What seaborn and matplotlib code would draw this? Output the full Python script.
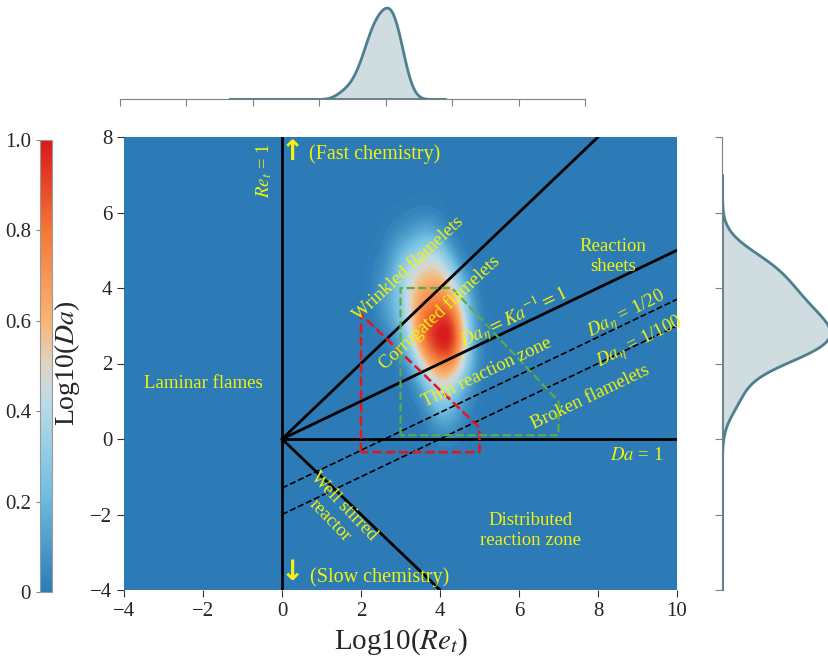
import numpy as np
import matplotlib
matplotlib.use('Agg')
import matplotlib.pyplot as plt
import seaborn as sns
from matplotlib.colors import LinearSegmentedColormap, Normalize
import matplotlib.cm as cm

sns.set_style('ticks')
plt.rcParams['font.family'] = ['Liberation Serif', 'DejaVu Sans']
plt.rcParams['mathtext.fontset'] = 'stix'

# === DATI: campioni (log10 Re_t, log10 Da) ===
re_samples = [4.10, 4.00, 4.20, 4.30, 3.75, 4.25, 3.70, 4.40, 3.95, 4.05, 4.45, 3.60,
              3.55, 4.40, 3.45, 4.30, 4.55, 3.75, 3.70, 4.15, 3.55, 4.00,
              3.20, 3.50, 2.75, 3.85, 3.30, 3.10,
              4.15, 3.95]
da_samples = [2.90, 2.60, 3.20, 2.80, 3.00, 2.50, 3.50, 3.20, 2.30, 3.70, 2.60, 2.70,
              3.80, 2.20, 3.10, 4.10, 3.50, 2.10, 4.30, 2.00, 2.40, 4.50,
              4.00, 4.70, 3.60, 4.90, 2.70, 4.50,
              1.30, 1.00]

# === confini del diagramma di regime ===
re1_x, re1_y = [0, 0], [-4, 8]
wrinkled_x, wrinkled_y = [0, 8], [0, 8]
ka_x, ka_y = [0, 10], [0, 5]
da1_x, da1_y = [0, 10], [0, 0]
wsr_x, wsr_y = [0, 4], [0, -4]
da20_x, da20_y = [0, 10], [-1.30, 3.70]
da100_x, da100_y = [0, 10], [-2.00, 3.00]
red_x = [2, 2, 5, 5, 2]
red_y = [-0.35, 3.3, 0.3, -0.35, -0.35]
green_x = [3, 3, 4.3, 7, 7, 3]
green_y = [0.1, 4.0, 4.0, 1.0, 0.1, 0.1]

cmap = LinearSegmentedColormap.from_list('blob', [
    (0.0, '#2c7bb6'), (0.22, '#72c0e2'), (0.42, '#bcdbe7'), (0.5, '#ddd5c8'),
    (0.6, '#f8b575'), (0.8, '#f37836'), (1.0, '#d7191c')])

W, H = 829, 662
fig = plt.figure(figsize=(W / 100, H / 100), dpi=100)

def box(l, t, r, b):
    return [l / W, 1 - b / H, (r - l) / W, (b - t) / H]

ax = fig.add_axes(box(124, 137, 677, 590))
ax_top = fig.add_axes(box(120, 3, 585, 99))
ax_right = fig.add_axes(box(722, 137, 829, 590))
cax = fig.add_axes(box(40, 140, 52, 592))

# === GRAFICO PRINCIPALE ===
ax.set_facecolor(cmap(0.0))
sns.kdeplot(x=re_samples, y=da_samples, ax=ax, fill=True, cmap=cmap,
            levels=80, thresh=0.005, bw_adjust=1.2)
ax.set_xlim(-4, 10)
ax.set_ylim(-4, 8)

for xs, ys in [(re1_x, re1_y), (wrinkled_x, wrinkled_y), (ka_x, ka_y),
               (da1_x, da1_y), (wsr_x, wsr_y)]:
    ax.plot(xs, ys, color='black', lw=2)
ax.plot(da20_x, da20_y, color='black', lw=1.2, ls='--')
ax.plot(da100_x, da100_y, color='black', lw=1.2, ls='--')
ax.plot(red_x, red_y, color='#e8141c', lw=1.8, ls='--')
ax.plot(green_x, green_y, color='#5aab4a', lw=1.6, ls='--')

yel = '#f2f20c'
fs = 13.5
ax.text(-0.46, 7.1, r'$Re_t$ = 1', color=yel, fontsize=fs, rotation=90, ha='center', va='center')
ax.text(0.25, 7.6, '\u2191', color=yel, fontsize=20, fontweight='bold', ha='center', va='center',
        family=['DejaVu Sans'])
ax.text(2.35, 7.54, '(Fast chemistry)', color=yel, fontsize=14.5, ha='center', va='center')
ax.text(0.25, -3.53, '\u2193', color=yel, fontsize=20, fontweight='bold', ha='center', va='center',
        family=['DejaVu Sans'])
ax.text(2.48, -3.66, '(Slow chemistry)', color=yel, fontsize=14.5, ha='center', va='center')
ax.text(3.2, 4.52, 'Wrinkled flamelets', color=yel, fontsize=fs, rotation=43, ha='center', va='center')
ax.text(4.0, 3.34, 'Corrugated flamelets', color=yel, fontsize=fs, rotation=43, ha='center', va='center')
ax.text(5.85, 3.24, r'$Da_\eta = Ka^{-1} = 1$', color=yel, fontsize=fs, rotation=25.5, ha='center', va='center')
ax.text(8.38, 4.83, 'Reaction\nsheets', color=yel, fontsize=fs, ha='center', va='center')
ax.text(8.73, 3.29, r'$Da_\eta$ = 1/20', color=yel, fontsize=fs, rotation=27, ha='center', va='center')
ax.text(9.06, 2.55, r'$Da_\eta$ = 1/100', color=yel, fontsize=fs, rotation=27, ha='center', va='center')
ax.text(5.19, 1.75, 'Thin reaction zone', color=yel, fontsize=fs, rotation=25.5, ha='center', va='center')
ax.text(7.8, 1.11, 'Broken flamelets', color=yel, fontsize=fs, rotation=25.5, ha='center', va='center')
ax.text(8.99, -0.45, r'$Da$ = 1', color=yel, fontsize=fs, ha='center', va='center')
ax.text(-2.0, 1.46, 'Laminar flames', color=yel, fontsize=fs, ha='center', va='center')
ax.text(1.39, -1.97, 'Well stirred\nreactor', color=yel, fontsize=fs, rotation=-46, ha='center', va='center')
ax.text(6.28, -2.42, 'Distributed\nreaction zone', color=yel, fontsize=fs, ha='center', va='center')

ax.set_xticks(range(-4, 11, 2))
ax.set_yticks(range(-4, 9, 2))
ax.tick_params(labelsize=15, direction='out', length=5, color='#333333')
for s in ax.spines.values():
    s.set_visible(False)
ax.set_xlabel(r'Log10($Re_t$)', fontsize=21, labelpad=4)
ax.set_ylabel(r'Log10($Da$)', fontsize=20, labelpad=6)

# === MARGINALI ===
mcol = '#4e7f8e'
sns.kdeplot(x=re_samples, ax=ax_top, fill=True, color=mcol, linewidth=2,
            alpha=0.27, cut=30, clip=(-0.7, 5.8), bw_adjust=1.15)
ax_top.set_xlim(-4, 10)
ax_top.set_xticks(range(-4, 11, 2))
ax_top.set_xticklabels([])
ax_top.set_yticks([])
ax_top.set_xlabel('')
ax_top.set_ylabel('')
for k in ['top', 'left', 'right']:
    ax_top.spines[k].set_visible(False)
ax_top.spines['bottom'].set_color('#808080')
ax_top.tick_params(axis='x', color='#808080', length=5, direction='out')

sns.kdeplot(y=da_samples, ax=ax_right, fill=True, color=mcol, linewidth=2,
            alpha=0.27, cut=30, clip=(-4.5, 7.0), bw_adjust=1.0)
ax_right.set_ylim(-4, 8)
ax_right.set_xlim(0, ax_right.get_xlim()[1] / 1.06)
ax_right.set_yticks(range(-4, 9, 2))
ax_right.set_yticklabels([])
ax_right.set_xticks([])
ax_right.set_xlabel('')
ax_right.set_ylabel('')
for k in ['top', 'bottom', 'right']:
    ax_right.spines[k].set_visible(False)
ax_right.spines['left'].set_color('#808080')
ax_right.tick_params(axis='y', color='#808080', length=5, direction='out')

# === BARRA COLORI ===
cb = fig.colorbar(cm.ScalarMappable(norm=Normalize(0, 1), cmap=cmap), cax=cax)
cb.set_ticks([0, 0.2, 0.4, 0.6, 0.8, 1.0])
cb.set_ticklabels(['0', '0.2', '0.4', '0.6', '0.8', '1.0'])
cax.yaxis.set_ticks_position('left')
cax.yaxis.set_label_position('left')
cax.tick_params(labelsize=15, length=3, color='#888888')
cb.outline.set_edgecolor('#999999')
cb.outline.set_linewidth(0.8)

fig.savefig('out.png', dpi=100)
